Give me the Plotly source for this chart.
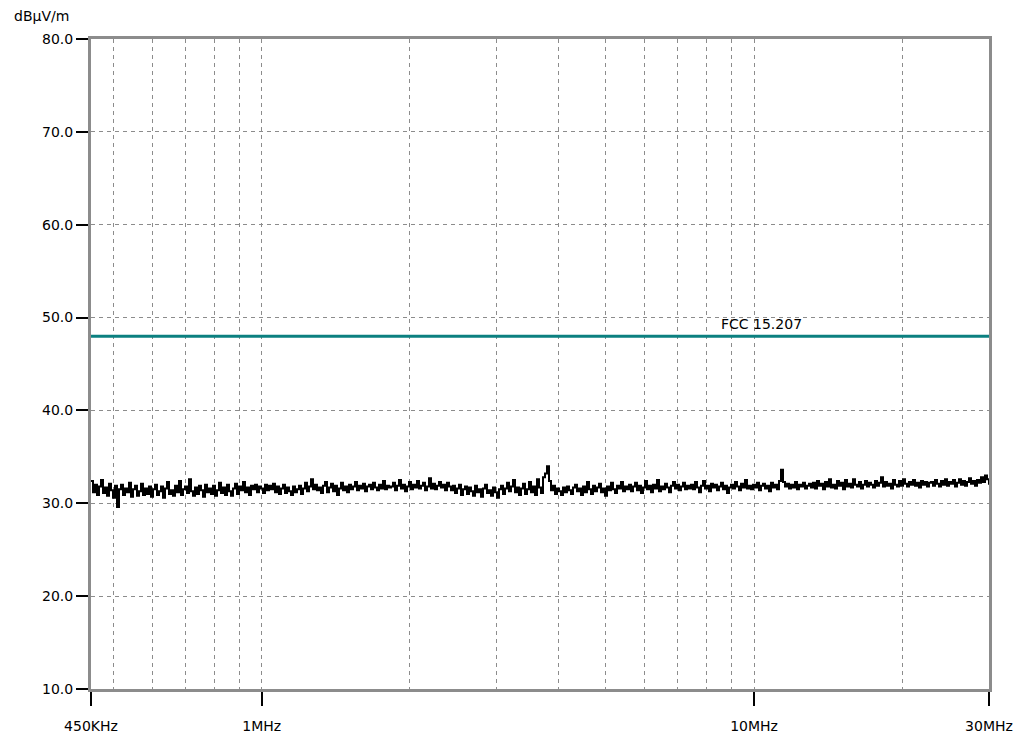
import numpy as np
import plotly.graph_objects as go

# ---- data ----
f_start_hz = 450e3
f_stop_hz = 30e6
limit_name = "FCC 15.207"
limit_level = 48.0
y_ticks = [10, 20, 30, 40, 50, 60, 70, 80]
x_tick_vals = [450e3, 1e6, 10e6, 30e6]
x_tick_text = ["450KHz", "1MHz", "10MHz", "30MHz"]
x_minor_vals = [5e5, 6e5, 7e5, 8e5, 9e5, 2e6, 3e6, 4e6, 5e6, 6e6, 7e6, 8e6, 9e6, 2e7]

level_dbuv = [
    32.4, 31.2, 32.0, 30.9, 31.8, 32.5, 31.1, 31.7, 30.8, 32.1, 31.4, 30.6, 31.9, 29.6, 31.5, 32.0, 30.9, 31.6, 31.2, 32.2, 30.7, 31.5, 31.9, 30.8, 31.3, 32.1, 30.9, 31.6, 31.0, 31.8,
    30.7, 31.5, 32.0, 30.9, 31.3, 31.8, 30.6, 31.6, 32.3, 31.0, 31.4, 30.8, 31.9, 31.2, 32.4, 30.9, 31.5, 31.8, 31.1, 32.6, 31.3, 30.8, 31.7, 31.0, 31.9, 31.4, 30.7, 32.0, 31.2, 31.6,
    31.0, 31.9, 30.8, 31.4, 32.2, 31.1, 31.7, 30.9, 32.0, 31.3, 30.8, 31.6, 32.1, 31.0, 31.8, 31.4, 32.3, 31.2, 31.7, 30.9, 31.9, 31.5, 32.0, 31.2, 31.8, 31.6, 31.1, 32.0, 31.4, 31.9,
    31.5, 32.1, 31.2, 31.8, 31.0, 31.6, 32.0, 31.1, 31.7, 31.3, 30.9, 31.8, 31.2, 31.5, 31.9, 31.0, 31.6, 32.2, 31.3, 31.8, 32.6, 31.5, 32.0, 31.4, 31.7, 31.1, 31.9, 32.3, 31.2, 31.7,
    32.1, 31.3, 31.9, 30.9, 31.6, 32.2, 31.4, 31.8, 31.2, 32.0, 31.5, 31.8, 32.3, 31.4, 31.9, 31.6, 32.1, 31.3, 31.8, 32.0, 31.5, 32.2, 31.7, 31.4, 32.0, 31.6, 32.4, 31.5, 31.9, 31.7,
    31.8, 32.2, 31.4, 31.9, 32.5, 31.6, 32.0, 31.3, 31.8, 32.3, 31.5, 32.0, 31.7, 32.4, 31.6, 31.9, 32.2, 31.4, 31.8, 32.7, 31.6, 32.1, 31.5, 31.9, 32.3, 31.7, 32.0, 31.4, 32.2, 31.8,
    31.4, 31.9, 31.1, 31.6, 32.0, 30.9, 31.5, 31.8, 31.0, 31.7, 31.3, 30.8, 31.9, 31.2, 31.5, 30.7, 31.6, 32.0, 31.1, 31.4, 30.8, 31.7, 31.2, 30.6, 31.5, 31.9, 31.0, 31.6, 32.2, 31.3,
    31.8, 32.5, 31.2, 31.7, 30.9, 31.6, 32.1, 31.0, 31.5, 32.3, 31.2, 31.8, 30.9, 32.6, 31.7, 31.1, 32.8, 33.2, 34.0, 32.4, 31.4, 31.9, 31.0, 31.6, 31.3, 30.9, 31.7, 31.2, 31.8, 31.4,
    31.0, 31.7, 32.0, 31.3, 31.6, 30.9, 31.8, 31.2, 32.3, 31.5, 31.0, 31.9, 31.3, 31.7, 32.1, 31.2, 31.6, 30.8, 31.8, 31.4, 32.2, 31.5, 31.1, 31.9, 31.6, 32.3, 31.3, 31.8, 31.5, 32.0,
    31.3, 31.8, 32.2, 31.4, 31.9, 31.1, 31.7, 32.4, 31.5, 31.9, 31.2, 32.0, 31.6, 32.5, 31.3, 31.8, 31.5, 32.1, 31.7, 31.2, 31.9, 32.3, 31.6, 32.0, 31.4, 31.8, 32.2, 31.5, 31.9, 31.6,
    32.0, 31.5, 32.3, 31.7, 31.2, 31.9, 32.4, 31.6, 31.9, 31.3, 32.1, 31.7, 32.0, 31.4, 31.8, 32.2, 31.5, 31.9, 31.1, 31.7, 32.0, 31.6, 32.3, 31.8, 31.4, 32.1, 31.7, 32.5, 31.6, 31.9,
    31.5, 32.0, 31.7, 32.2, 31.4, 31.9, 32.1, 31.6, 31.9, 31.3, 32.2, 31.7, 32.0, 31.5, 32.4, 33.6, 32.3, 31.8, 32.1, 31.6, 32.0, 31.7, 32.3, 31.5, 32.0, 31.8, 32.2, 31.6, 31.9, 32.1,
    31.7, 32.2, 31.6, 32.4, 31.9, 32.1, 31.5, 32.3, 31.8, 32.6, 31.7, 32.0, 31.6, 32.4, 31.9, 32.2, 31.5, 32.5, 31.8, 32.1, 31.7, 32.6, 32.0, 31.8, 32.3, 31.6, 32.0, 32.4, 31.8, 32.2,
    32.0, 31.7, 32.4, 31.9, 32.2, 32.8, 31.8, 32.3, 31.9, 32.1, 31.6, 32.5, 32.0, 31.8, 32.4, 31.9, 32.6, 32.1, 31.8, 32.3, 32.0, 32.5, 31.9, 32.2, 31.7, 32.4, 32.0, 32.3, 31.8, 32.2,
    32.3, 31.9, 32.5, 32.1, 31.8, 32.4, 32.0, 32.6, 31.9, 32.3, 32.1, 32.5, 31.8, 32.2, 32.6, 32.0, 32.4, 31.9, 32.3, 32.7, 32.1, 32.4, 31.9, 32.5, 32.2, 32.8, 32.3, 33.0, 32.6, 32.0,
]

# sweep frequency grid (log-spaced sweep points from start to stop)
freq_hz = np.geomspace(f_start_hz, f_stop_hz, len(level_dbuv))

FONT = "DejaVu Sans, Verdana, sans-serif"
GRID = "#8c8c8c"

fig = go.Figure()
fig.add_trace(go.Scatter(
    x=freq_hz, y=level_dbuv, mode="lines",
    line=dict(color="black", width=2, shape="hv"),
    showlegend=False, hoverinfo="skip",
))
fig.add_trace(go.Scatter(
    x=[f_start_hz, f_stop_hz], y=[limit_level, limit_level], mode="lines",
    line=dict(color="#0b8080", width=3),
    showlegend=False, hoverinfo="skip",
))

fig.add_annotation(
    x=np.log10(8.5e6), y=limit_level, xref="x", yref="y",
    text=limit_name, showarrow=False, xanchor="left", yanchor="bottom",
    yshift=2, font=dict(family=FONT, size=14, color="black"),
)
fig.add_annotation(
    x=-0.088, y=1.0354, xref="paper", yref="paper",
    text="dBµV/m", showarrow=False, xanchor="left", yanchor="middle",
    font=dict(family=FONT, size=14, color="black"),
)

fig.update_layout(
    width=1013, height=730,
    margin=dict(l=83, r=32, t=31, b=49),
    plot_bgcolor="white", paper_bgcolor="white",
    font=dict(family=FONT, size=14, color="black"),
)
fig.update_xaxes(
    type="log", range=[np.log10(f_start_hz), np.log10(f_stop_hz)],
    automargin=False,
    tickmode="array", tickvals=x_tick_vals, ticktext=x_tick_text,
    ticks="outside", ticklen=14, tickwidth=2, tickcolor="black",
    ticklabelstandoff=8,
    showline=True, linecolor="#8c8c8c", linewidth=3, mirror=True,
    showgrid=True, gridcolor=GRID, gridwidth=1, griddash="4px,4px",
    minor=dict(tickmode="array", tickvals=x_minor_vals, showgrid=True,
               gridcolor=GRID, gridwidth=1, griddash="4px,4px", ticks=""),
    zeroline=False, tickfont=dict(family=FONT, size=14),
)
fig.update_yaxes(
    range=[10, 80], automargin=False, tickmode="array", tickvals=y_ticks,
    ticktext=[f"{v:.1f}" for v in y_ticks],
    ticks="outside", ticklen=12, tickwidth=2, tickcolor="black",
    showline=True, linecolor="#8c8c8c", linewidth=3, mirror=True,
    showgrid=True, gridcolor=GRID, gridwidth=1, griddash="4px,4px",
    zeroline=False, tickfont=dict(family=FONT, size=14),
)

fig.write_html("out.html")
